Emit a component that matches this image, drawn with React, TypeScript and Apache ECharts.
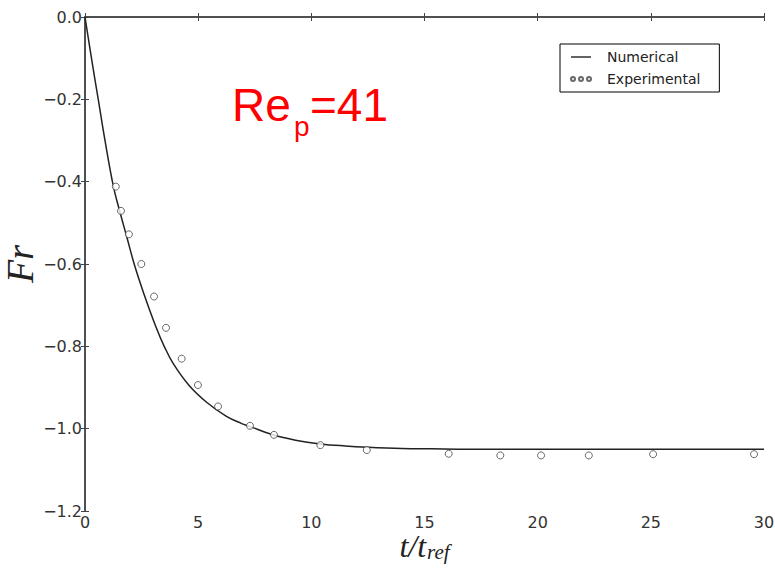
import React, { useEffect, useRef } from "react";
import * as echarts from "echarts";

// Numerical solution
const numT = [0, 0.3, 0.6, 0.9, 1.25, 1.55, 1.85, 2.2, 2.6, 3.15, 3.5, 3.9, 4.6, 5.4, 6.25, 6.9, 7.3, 8.3, 9.3, 10.4, 11.5, 12.5, 14, 15.3, 17, 20, 25, 30];
const numFr = [0, -0.105, -0.205, -0.305, -0.41, -0.475, -0.535, -0.605, -0.672, -0.755, -0.8, -0.842, -0.895, -0.937, -0.97, -0.987, -0.995, -1.015, -1.028, -1.037, -1.042, -1.045, -1.048, -1.049, -1.05, -1.05, -1.05, -1.05];

// Experimental points
const expT = [1.36, 1.59, 1.94, 2.49, 3.05, 3.58, 4.27, 4.99, 5.88, 7.29, 8.35, 10.4, 12.45, 16.07, 18.35, 20.15, 22.26, 25.1, 29.56];
const expFr = [-0.412, -0.471, -0.528, -0.6, -0.679, -0.755, -0.83, -0.894, -0.946, -0.993, -1.015, -1.04, -1.052, -1.061, -1.065, -1.065, -1.065, -1.062, -1.062];

const xTicks = { min: 0, max: 30, interval: 5 };
const yTicks = { min: -1.2, max: 0, interval: 0.2 };

const seriesNames = ["Numerical", "Experimental"];

const fmtY = (v: number) => (Math.abs(v) < 1e-9 ? "0.0" : "\u2212" + Math.abs(v).toFixed(1));

const threeCircles =
  "path://M0,2a2,2 0 1,0 4,0a2,2 0 1,0 -4,0M8,2a2,2 0 1,0 4,0a2,2 0 1,0 -4,0M16,2a2,2 0 1,0 4,0a2,2 0 1,0 -4,0";
const lineIcon = "path://M0,0h20v1.4h-20z";

export default function App() {
  const ref = useRef<HTMLDivElement>(null);
  useEffect(() => {
    if (!ref.current) return;
    const chart = echarts.init(ref.current, undefined, { renderer: "svg" });
    const axisLine = { show: true, lineStyle: { color: "#444", width: 1.5 } };
    const tickInside = { show: true, inside: true, length: 4, lineStyle: { color: "#444", width: 1 } };
    const labelStyle = { fontFamily: "DejaVu Sans", fontSize: 16, color: "#333" };
    chart.setOption({
      animation: false,
      backgroundColor: "#fff",
      grid: { left: 85, right: 11, top: 17, bottom: 57, containLabel: false, outerBoundsMode: "none" },
      legend: {
        orient: "vertical",
        left: 560,
        top: 44,
        backgroundColor: "#fff",
        borderColor: "#000",
        borderWidth: 1,
        borderRadius: 0,
        padding: [6, 19, 6, 10],
        itemGap: 8,
        itemWidth: 20,
        itemHeight: 14,
        textStyle: { fontFamily: "DejaVu Sans", fontSize: 14, color: "#222", padding: [0, 0, 0, 11] },
        data: [
          { name: seriesNames[0], icon: lineIcon, itemStyle: { color: "#222", borderWidth: 0 } },
          { name: seriesNames[1], icon: threeCircles },
        ],
      },
      xAxis: [
        {
          type: "value",
          ...xTicks,
          position: "bottom",
          axisLine,
          axisTick: tickInside,
          splitLine: { show: false },
          axisLabel: { ...labelStyle, margin: 3, showMinLabel: true, showMaxLabel: true },
          name: "{a|t/t}{s|ref}",
          nameLocation: "middle",
          nameGap: 19,
          nameMoveOverlap: false,
          nameTextStyle: {
            rich: {
              a: { fontFamily: "Liberation Serif", fontStyle: "italic", fontSize: 32, color: "#222" },
              s: { fontFamily: "Liberation Serif", fontStyle: "italic", fontSize: 21, color: "#222", padding: [11, 0, 0, 1] },
            },
          },
        },
        {
          type: "value",
          ...xTicks,
          position: "top",
          axisLine,
          axisTick: tickInside,
          splitLine: { show: false },
          axisLabel: { show: false },
        },
      ],
      yAxis: [
        {
          type: "value",
          ...yTicks,
          position: "left",
          axisLine,
          axisTick: tickInside,
          splitLine: { show: false },
          axisLabel: { ...labelStyle, margin: 3, formatter: fmtY, showMinLabel: true, showMaxLabel: true },
          name: "Fr",
          nameLocation: "middle",
          nameGap: 46,
          nameMoveOverlap: false,
          nameTextStyle: { fontFamily: "Liberation Serif", fontStyle: "italic", fontSize: 38, color: "#222" },
        },
        {
          type: "value",
          ...yTicks,
          position: "right",
          axisLine,
          axisTick: tickInside,
          splitLine: { show: false },
          axisLabel: { show: false },
        },
      ],
      series: [
        {
          name: seriesNames[0],
          type: "line",
          xAxisIndex: 0,
          yAxisIndex: 0,
          data: numT.map((t, i) => [t, numFr[i]]),
          symbol: "none",
          smooth: 0.4,
          lineStyle: { color: "#222", width: 1.5 },
          itemStyle: { color: "#222" },
          z: 3,
        },
        {
          name: seriesNames[1],
          type: "scatter",
          xAxisIndex: 0,
          yAxisIndex: 0,
          data: expT.map((t, i) => [t, expFr[i]]),
          symbol: "circle",
          symbolSize: 7,
          itemStyle: { color: "#fff", borderColor: "#444", borderWidth: 1 },
          z: 4,
        },
      ],
      graphic: [
        {
          type: "text",
          left: 232,
          top: 82,
          style: { text: "Re", fill: "#ff0000", font: "46px 'Liberation Sans', Arial, sans-serif" },
        },
        {
          type: "text",
          left: 294,
          top: 112,
          style: { text: "p", fill: "#ff0000", font: "28px 'Liberation Sans', Arial, sans-serif" },
        },
        {
          type: "text",
          left: 310,
          top: 82,
          style: { text: "=41", fill: "#ff0000", font: "46px 'Liberation Sans', Arial, sans-serif" },
        },
      ],
    });
    return () => chart.dispose();
  }, []);
  return <div ref={ref} style={{ width: 775, height: 568, position: "absolute", left: 0, top: 0 }} />;
}
